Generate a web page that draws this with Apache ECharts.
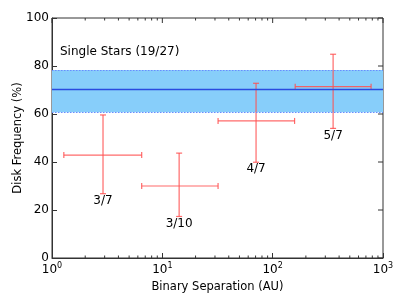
<!DOCTYPE html>
<html><head><meta charset="utf-8">
<script src="https://cdn.jsdelivr.net/npm/echarts@6/dist/echarts.min.js"></script>
<style>html,body{margin:0;padding:0;background:#fff}#c{width:407px;height:305px}</style>
</head><body><div id="c"></div>
<script>
// Data
const sepCenter = [2.9, 14.2, 70.7, 353];
const sepLow    = [1.28, 6.5, 32, 160];
const sepHigh   = [6.5, 32, 158, 780];
const freq      = [42.9, 30.0, 57.1, 71.4];
const freqLow   = [26.8, 17.3, 39.9, 54.0];
const freqHigh  = [59.6, 43.7, 72.8, 84.9];
const ratioLabels = ['3/7', '3/10', '4/7', '5/7'];
const singleFreq = 70.4, singleLow = 60.7, singleHigh = 78.3;
const singleLabel = 'Single Stars (19/27)';
const yTicks = [0, 20, 40, 60, 80, 100];
const xDecades = [1, 10, 100, 1000];

const minorVals = [];
for (let d = 0; d < xDecades.length - 1; d++) for (let k = 2; k <= 9; k++) minorVals.push(xDecades[d] * k);

const FONT = 'DejaVu Sans';
const frameColor = '#333';
const errColor = 'rgba(255,80,80,0.85)';

const errData = sepCenter.map((x, i) => [x, freq[i], sepLow[i], sepHigh[i], freqLow[i], freqHigh[i], i]);

const chart = echarts.init(document.getElementById('c'), null, {renderer: 'canvas'});

chart.setOption({
  animation: false,
  grid: {left: 52, right: 24, top: 18, bottom: 47, containLabel: false, outerBoundsMode: 'none',
         show: true, borderColor: frameColor, borderWidth: 1, backgroundColor: 'transparent'},
  xAxis: {
    type: 'log', logBase: 10, min: 1, max: 1000, position: 'bottom',
    axisLine: {show: true, onZero: false, lineStyle: {color: frameColor, width: 1}},
    axisTick: {show: true, inside: true, length: 5, lineStyle: {color: frameColor}},
    splitLine: {show: false}, minorTick: {show: false},
    name: 'Binary Separation (AU)', nameLocation: 'middle', nameGap: 23, nameMoveOverlap: false,
    nameTextStyle: {fontFamily: FONT, fontSize: 11.5, color: '#000'},
    axisLabel: {
      margin: 4, color: '#000', fontFamily: FONT, fontSize: 12,
      formatter: v => '{b|10}{s|' + Math.round(Math.log10(v)) + '}',
      rich: {
        b: {fontSize: 12, fontFamily: FONT, color: '#000', lineHeight: 14, verticalAlign: 'bottom'},
        s: {fontSize: 8, fontFamily: FONT, color: '#000', lineHeight: 9, padding: [0, 0, 6, 0], verticalAlign: 'bottom'}
      }
    }
  },
  yAxis: {
    type: 'value', min: 0, max: 100, interval: 20, position: 'left',
    axisLine: {show: true, onZero: false, lineStyle: {color: frameColor, width: 1}},
    axisTick: {show: true, inside: true, length: 5, lineStyle: {color: frameColor}},
    splitLine: {show: false},
    name: 'Disk Frequency (%)', nameLocation: 'middle', nameGap: 28, nameMoveOverlap: false,
    nameTextStyle: {fontFamily: FONT, fontSize: 11.5, color: '#000'},
    axisLabel: {margin: 3, color: '#000', fontFamily: FONT, fontSize: 12}
  },
  series: [
    {
      type: 'line', data: [], silent: true,
      markArea: {
        silent: true,
        itemStyle: {color: '#87cefa', borderWidth: 0},
        data: [[{yAxis: singleLow}, {yAxis: singleHigh}]]
      },
      markLine: {
        silent: true, symbol: 'none', label: {show: false},
        data: [
          {yAxis: singleLow, lineStyle: {color: '#6a8cff', type: [1.5, 1.5], width: 1}},
          {yAxis: singleHigh, lineStyle: {color: '#6a8cff', type: [1.5, 1.5], width: 1}},
          {yAxis: singleFreq, lineStyle: {color: '#2a4be0', type: 'solid', width: 1.3}}
        ]
      }
    },
    {
      type: 'custom', silent: true,
      data: errData,
      renderItem: (params, api) => {
        const c = api.coord([api.value(0), api.value(1)]);
        const xl = api.coord([api.value(2), api.value(1)])[0];
        const xh = api.coord([api.value(3), api.value(1)])[0];
        const yl = api.coord([api.value(0), api.value(4)])[1];
        const yh = api.coord([api.value(0), api.value(5)])[1];
        const st = {stroke: errColor, lineWidth: 1.2};
        const cap = 3;
        const idx = api.value(6);
        return {type: 'group', children: [
          {type: 'line', shape: {x1: xl, y1: c[1], x2: xh, y2: c[1]}, style: st},
          {type: 'line', shape: {x1: c[0], y1: yl, x2: c[0], y2: yh}, style: st},
          {type: 'line', shape: {x1: xl, y1: c[1] - cap, x2: xl, y2: c[1] + cap}, style: st},
          {type: 'line', shape: {x1: xh, y1: c[1] - cap, x2: xh, y2: c[1] + cap}, style: st},
          {type: 'line', shape: {x1: c[0] - cap, y1: yl, x2: c[0] + cap, y2: yl}, style: st},
          {type: 'line', shape: {x1: c[0] - cap, y1: yh, x2: c[0] + cap, y2: yh}, style: st},
          {type: 'text', style: {x: c[0], y: yl + 1, text: ratioLabels[idx], fill: '#000',
            font: '12px "DejaVu Sans"', textAlign: 'center', textVerticalAlign: 'top'}}
        ]};
      }
    },
    {
      // minor ticks on bottom and top edges
      type: 'custom', silent: true,
      data: minorVals.map(v => [v]),
      renderItem: (params, api) => {
        const b = api.coord([api.value(0), 0]);
        const t = api.coord([api.value(0), 100]);
        const st = {stroke: frameColor, lineWidth: 1};
        return {type: 'group', children: [
          {type: 'line', shape: {x1: b[0], y1: b[1], x2: b[0], y2: b[1] - 2.5}, style: st},
          {type: 'line', shape: {x1: t[0], y1: t[1], x2: t[0], y2: t[1] + 2.5}, style: st}
        ]};
      }
    },
    {
      // major ticks on top edge
      type: 'custom', silent: true,
      data: xDecades.map(v => [v]),
      renderItem: (params, api) => {
        const t = api.coord([api.value(0), 100]);
        return {type: 'line', shape: {x1: t[0], y1: t[1], x2: t[0], y2: t[1] + 5}, style: {stroke: frameColor, lineWidth: 1}};
      }
    },
    {
      // major ticks on right edge
      type: 'custom', silent: true,
      data: yTicks.map(v => [1000, v]),
      renderItem: (params, api) => {
        const r = api.coord([api.value(0), api.value(1)]);
        return {type: 'line', shape: {x1: r[0], y1: r[1], x2: r[0] - 5, y2: r[1]}, style: {stroke: frameColor, lineWidth: 1}};
      }
    }
  ],
  graphic: [
    {type: 'text', left: 60, top: 46, style: {text: singleLabel, fill: '#000', font: '12px "DejaVu Sans"'}}
  ]
});
</script>
</body></html>
